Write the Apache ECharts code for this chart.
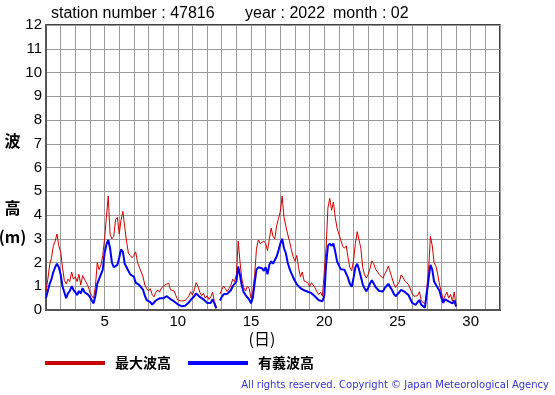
<!DOCTYPE html>
<html><head><meta charset="utf-8">
<script src="https://cdn.jsdelivr.net/npm/echarts@6/dist/echarts.min.js"></script>
<style>html,body{margin:0;padding:0;background:#fff}#c{width:555px;height:395px}</style>
</head><body><div id="c"></div>
<script>
const startDay = 1;
const stepsPerDay = 8;
const xTickLabels = [5, 10, 15, 20, 25, 30];
const seriesNames = ['最大波高', '有義波高'];
const titleParts = ['station number : 47816', 'year : 2022', 'month : 02'];
const yAxisNameParts = ['波', '高', '(m)'];
const xAxisName = '(日)';
const copyright = 'All rights reserved. Copyright © Japan Meteorological Agency';

// 最大波高 (3-hourly, from day 1 00h)
const maxWave = [
  0.8, 1.3, 1.9, 2.2, 2.7, 2.9, 3.2, 2.7,
  2.45, 1.8, 1.25, 1.1, 1.3, 1.2, 1.6, 1.3,
  1.4, 1.2, 1.5, 1.05, 1.45, 1.3, 1.35, 1.0,
  0.75, 0.6, 0.5, 1.0, 2.0, 1.7, 1.9, 2.3,
  3.0, 3.9, 4.8, 3.2, 3.0, 3.1, 3.8, 3.9,
  3.2, 3.8, 4.15, 3.5, 2.9, 2.4, 2.3, 2.2,
  2.3, 2.45, 2.0, 1.95, 1.6, 1.4, 1.05, 0.9,
  0.8, 0.9, 0.65, 0.55, 0.75, 0.85, 0.75, 0.92,
  0.85, 1.06, 1.0, 1.13, 0.85, 0.85, 0.8, 0.6,
  0.42, 0.35, 0.38, 0.33, 0.4, 0.48, 0.58, 0.77,
  0.63, 0.85, 1.15, 1.0, 0.75, 0.6, 0.7, 0.5,
  0.6, 0.45, 0.55, 0.75, 0.35, 0.14, null, 0.68,
  0.85, 1.0, 0.9, 0.78, 0.9, 1.05, 1.3, 1.2,
  1.5, 2.9, 2.0, 1.3, 0.95, 0.8, 1.0, 0.9,
  0.5, 0.8, 1.5, 2.6, 2.95, 2.8, 2.75, 2.9,
  2.8, 2.5, 3.0, 3.45, 3.1, 3.0, 3.55, 3.85,
  4.15, 4.8, 3.9, 3.9, 3.2, 2.9, 2.55, 2.25,
  2.05, 2.3, 1.76, 1.4, 1.6, 1.22, 1.3, 1.15,
  0.98, 1.15, 1.08, 0.93, 0.77, 0.65, 0.75, 0.58,
  0.6, 2.6, 4.3, 4.7, 4.2, 4.55, 3.9, 3.45,
  3.5, 2.95, 2.7, 2.6, 2.7, 2.2, 1.8, 1.65,
  2.1, 2.8, 3.3, 2.95, 2.6, 1.8, 1.48, 1.35,
  1.5, 1.75, 2.07, 1.95, 1.72, 1.64, 1.5, 1.55,
  1.34, 1.5, 1.65, 1.85, 1.85, 1.35, 1.1, 0.95,
  1.0, 1.18, 1.48, 1.38, 1.22, 1.3, 1.08, 1.05,
  0.7, 0.58, 0.5, 0.6, 0.77, 0.38, 0.4, 0.25,
  0.9, 1.7, 3.1, 2.7, 2.0, 1.85, 1.5, 1.05,
  0.75, 0.42, 0.6, 0.75, 0.5, 0.65, 0.38, 0.75,
  0.2
];

// 有義波高 (3-hourly, from day 1 00h)
const sigWave = [
  0.5, 0.8, 1.1, 1.3, 1.6, 1.8, 1.95, 1.8,
  1.5, 1.0, 0.75, 0.5, 0.7, 0.8, 1.0, 0.85,
  0.75, 0.63, 0.8, 0.7, 0.92, 0.75, 0.8, 0.65,
  0.55, 0.4, 0.28, 0.6, 1.1, 1.3, 1.5, 1.7,
  2.4, 2.75, 2.95, 2.6, 2.0, 1.8, 1.75, 1.9,
  2.2, 2.55, 2.45, 1.95, 1.8, 1.85, 1.5, 1.42,
  1.4, 1.15, 1.2, 1.05, 1.05, 0.85, 0.6, 0.42,
  0.38, 0.33, 0.23, 0.26, 0.4, 0.45, 0.49, 0.5,
  0.49, 0.52, 0.58, 0.6, 0.46, 0.43, 0.36, 0.28,
  0.24, 0.2, 0.16, 0.14, 0.18, 0.24, 0.32, 0.42,
  0.49, 0.58, 0.7, 0.68, 0.55, 0.48, 0.45, 0.45,
  0.3, 0.35, 0.3, 0.45, 0.28, 0.07, null, 0.4,
  0.55, 0.66, 0.65, 0.68, 0.75, 0.83, 1.0, 0.95,
  1.2, 1.83, 1.45, 1.0, 0.75, 0.63, 0.57, 0.44,
  0.28, 0.52, 1.15, 1.7, 1.8, 1.8, 1.76, 1.65,
  1.8, 1.5, 1.9, 2.05, 1.95, 1.95, 2.25, 2.5,
  2.8, 3.0, 2.6, 2.4, 2.0, 1.75, 1.55, 1.38,
  1.22, 1.08, 1.06, 0.92, 0.92, 0.83, 0.78, 0.77,
  0.74, 0.71, 0.64, 0.57, 0.5, 0.41, 0.35, 0.37,
  0.6, 1.9, 2.7, 2.8, 2.7, 2.8, 2.45, 2.05,
  1.88, 1.72, 1.65, 1.7, 1.75, 1.35, 1.1, 0.98,
  1.35, 1.8, 1.95, 1.7, 1.4, 1.08, 0.92, 0.79,
  0.93, 1.12, 1.25, 1.12, 0.97, 0.92, 0.8, 0.84,
  0.78, 0.92, 1.0, 1.1, 1.05, 0.84, 0.68, 0.58,
  0.61, 0.75, 0.85, 0.78, 0.76, 0.68, 0.63, 0.55,
  0.3, 0.26, 0.22, 0.33, 0.42, 0.22, 0.28, 0.1,
  0.7, 1.3, 1.9, 1.7, 1.2, 1.06, 1.05, 0.8,
  0.5, 0.3, 0.45, 0.5, 0.36, 0.42, 0.28, 0.4,
  0.15
];

function toPoints(arr) { return arr.map((v, i) => [startDay + i / stepsPerDay, v]); }

const LAT = '"Liberation Sans", Arial, sans-serif';
const DJV = '"DejaVu Sans", Verdana, sans-serif';
const CJK = '"Noto Sans CJK JP", sans-serif';

const chart = echarts.init(document.getElementById('c'), null, { renderer: 'canvas' });
chart.setOption({
  animation: false,
  backgroundColor: '#fff',
  grid: { left: 46, right: 55, top: 25, bottom: 85, show: true, borderColor: '#000', borderWidth: 1.5, backgroundColor: 'transparent' },
  xAxis: {
    type: 'value', min: 1, max: 32, interval: 1,
    axisLine: { show: true, onZero: false, lineStyle: { color: '#555', width: 2 } },
    axisTick: { show: false },
    axisLabel: { formatter: v => xTickLabels.includes(v) ? String(v) : '', color: '#000', fontSize: 15, fontFamily: LAT, margin: 4 },
    splitLine: { show: true, lineStyle: { color: '#9a9a9a', width: 1 } }
  },
  yAxis: {
    type: 'value', min: 0, max: 12, interval: 1,
    axisLine: { show: true, lineStyle: { color: '#555', width: 2 } },
    axisTick: { show: false },
    axisLabel: { color: '#000', fontSize: 15, fontFamily: LAT, margin: 4 },
    splitLine: { show: true, lineStyle: { color: '#9a9a9a', width: 1 } }
  },
  legend: {
    left: 45, top: 356, padding: 0, icon: 'rect', itemWidth: 60, itemHeight: 4, itemGap: 17,
    textStyle: { fontSize: 14, fontWeight: 'bold', color: '#000', fontFamily: CJK, padding: [0, 0, 0, 5] },
    data: seriesNames
  },
  series: [
    { name: seriesNames[0], type: 'line', data: toPoints(maxWave), showSymbol: false, connectNulls: false,
      itemStyle: { color: '#c80000' }, lineStyle: { color: '#d00000', width: 1 } },
    { name: seriesNames[1], type: 'line', data: toPoints(sigWave), showSymbol: false, connectNulls: false,
      itemStyle: { color: '#0000ff' }, lineStyle: { color: '#0000ff', width: 2 } }
  ],
  graphic: [
    { type: 'text', left: 51, top: 6, style: { text: titleParts[0], font: '16px ' + LAT, fill: '#000' } },
    { type: 'text', left: 245, top: 6, style: { text: titleParts[1], font: '16px ' + LAT, fill: '#000' } },
    { type: 'text', left: 333, top: 6, style: { text: titleParts[2], font: '16px ' + LAT, fill: '#000' } },
    { type: 'text', x: 12.5, y: 141, style: { text: yAxisNameParts[0], font: 'bold 16px ' + CJK, fill: '#000', align: 'center', verticalAlign: 'middle' } },
    { type: 'text', x: 12.5, y: 208, style: { text: yAxisNameParts[1], font: 'bold 16px ' + CJK, fill: '#000', align: 'center', verticalAlign: 'middle' } },
    { type: 'text', x: 12.5, y: 237, style: { text: yAxisNameParts[2], font: 'bold 16px ' + CJK, fill: '#000', align: 'center', verticalAlign: 'middle' } },
    { type: 'text', x: 262, y: 339, style: { text: xAxisName, font: '16px ' + CJK, fill: '#000', align: 'center', verticalAlign: 'middle' } },
    { type: 'text', x: 549, y: 385, style: { text: copyright, font: '10px ' + DJV, fill: '#3333cc', align: 'right', verticalAlign: 'middle' } }
  ]
});
</script>
</body></html>
